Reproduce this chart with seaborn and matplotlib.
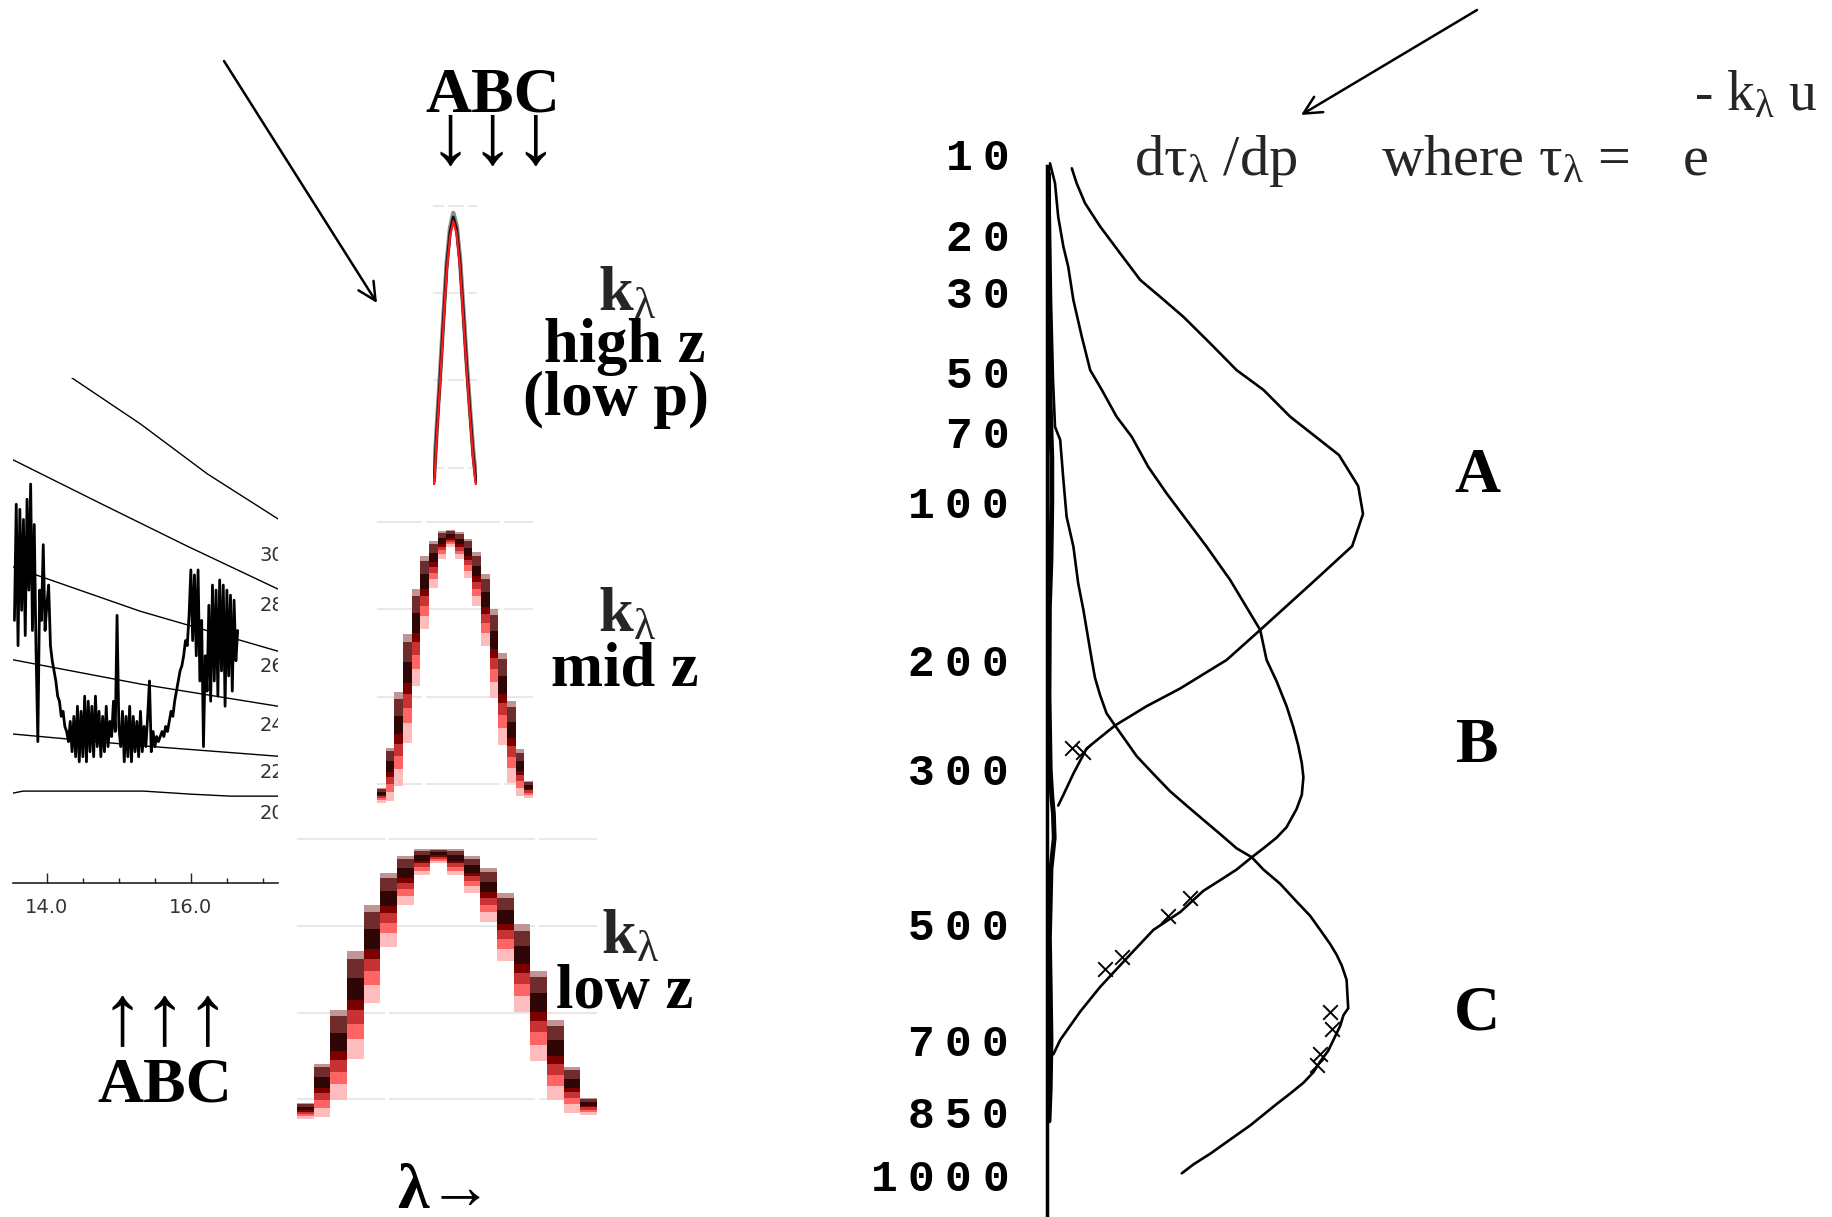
import matplotlib
matplotlib.use("Agg")
import matplotlib.pyplot as plt
import numpy as np
import seaborn as sns

# ---------------------------------------------------------------- data
# inset spectrum (wavelength in micron, radiance in arbitrary units)
spec_wl = [13.550, 13.575, 13.600, 13.625, 13.650, 13.675, 13.700, 13.725, 13.750, 13.775,
           13.800, 13.825, 13.850, 13.875, 13.900, 13.925, 13.950, 13.975, 14.000, 14.025,
           14.050, 14.075, 14.100, 14.125, 14.150, 14.175, 14.200, 14.225, 14.250, 14.275,
           14.300, 14.325, 14.350, 14.375, 14.400, 14.425, 14.450, 14.475, 14.500, 14.525,
           14.550, 14.575, 14.600, 14.625, 14.650, 14.675, 14.700, 14.725, 14.750, 14.775,
           14.800, 14.825, 14.850, 14.875, 14.900, 14.925, 14.950, 14.975, 15.000, 15.025,
           15.050, 15.075, 15.100, 15.125, 15.150, 15.175, 15.200, 15.225, 15.250, 15.275,
           15.300, 15.325, 15.350, 15.375, 15.400, 15.425, 15.450, 15.475, 15.500, 15.525,
           15.550, 15.575, 15.600, 15.625, 15.650, 15.675, 15.700, 15.725, 15.750, 15.775,
           15.800, 15.825, 15.850, 15.875, 15.900, 15.925, 15.950, 15.975, 16.000, 16.025,
           16.050, 16.075, 16.100, 16.125, 16.150, 16.175, 16.200, 16.225, 16.250, 16.275,
           16.300, 16.325, 16.350, 16.375, 16.400, 16.425, 16.450, 16.475, 16.500, 16.525,
           16.550, 16.575, 16.600, 16.625, 16.650]
spec_rad = [52, 75, 47, 74, 54, 72, 49, 76, 58, 79,
            50, 71, 46, 28, 58, 52, 67, 50, 55, 59,
            47, 44, 42, 40, 37, 36, 33, 34, 31, 30,
            28, 32, 26, 33, 25, 35, 24, 34, 25, 37,
            24, 36, 26, 35, 25, 37, 27, 34, 25, 33,
            26, 35, 27, 32, 29, 36, 30, 53, 31, 27,
            34, 24, 33, 25, 35, 24, 33, 26, 32, 25,
            34, 26, 31, 27, 33, 40, 26, 30, 27, 29,
            28, 29, 30, 29, 31, 30, 32, 34, 33, 36,
            38, 40, 42, 43, 45, 48, 47, 53, 62, 48,
            61, 45, 62, 40, 52, 27, 45, 38, 55, 36,
            59, 40, 58, 37, 60, 42, 59, 35, 58, 41,
            57, 38, 56, 44, 50]

# blackbody reference curves of the inset
bb300_wl = [13.90, 14.35, 15.30, 16.23, 17.21]
bb300 = [108.0, 100.0, 90.9, 81.0, 72.1]
bb280_wl = [13.53, 14.74, 15.95, 17.21]
bb280 = [83.8, 75.2, 66.7, 58.2]
bb260_wl = [13.53, 15.30, 17.21]
bb260 = [62.6, 53.8, 45.9]
bb240_wl = [13.53, 15.30, 17.21]
bb240 = [44.2, 39.4, 35.0]
bb220_wl = [13.53, 15.30, 17.21]
bb220 = [29.5, 27.2, 25.1]
bb200_wl = [13.53, 13.67, 15.34, 15.99, 16.55, 17.21]
bb200 = [17.8, 18.2, 18.2, 17.6, 17.2, 17.2]
bb_labels = ["300", "280", "260", "240", "220", "200"]
bb_label_y = [64.9, 54.9, 42.8, 31.1, 21.9, 13.7]

spec_major = [14.0, 16.0]
spec_major_labels = ["14.0", "16.0"]
spec_minor = [14.5, 15.0, 15.5, 16.5, 17.0]

# absorption coefficient k_lambda line shapes
high_dl = [-19.3, -16.6, -13.3, -10.0, -6.6, -3.3, 0.0, 3.4, 6.7, 10.0, 13.4, 16.7, 20.0, 22.7]
high_k = [0.209, 0.350, 0.501, 0.665, 0.825, 0.923, 0.968, 0.931, 0.837, 0.693, 0.539,
          0.407, 0.281, 0.209]
mid_top = [0.239, 0.354, 0.513, 0.678, 0.809, 0.903, 0.946, 0.974, 0.977, 0.971, 0.952,
           0.914, 0.850, 0.752, 0.626, 0.487, 0.349, 0.258]
mid_bot = [0.196, 0.201, 0.244, 0.368, 0.530, 0.693, 0.812, 0.893, 0.927, 0.893, 0.841,
           0.759, 0.645, 0.497, 0.363, 0.253, 0.215, 0.210]
low_top = [0.240, 0.353, 0.507, 0.676, 0.810, 0.902, 0.951, 0.972, 0.972, 0.972, 0.951,
           0.916, 0.845, 0.754, 0.620, 0.479, 0.343, 0.254]
low_bot = [0.194, 0.198, 0.247, 0.367, 0.529, 0.690, 0.810, 0.895, 0.930, 0.895, 0.845,
           0.761, 0.648, 0.501, 0.360, 0.247, 0.212, 0.205]
k_grid = [0.25, 0.5, 0.75, 1.0]

# weighting functions d tau / dp  (pressure hPa, weight)
wA_p = [11.4, 13.0, 15.4, 18.6, 22.8, 27.6, 31.0, 35.4, 41.9, 49.3, 55.3, 64.3, 78.9, 92.3,
        105.7, 122.8, 143.5, 176.6, 199.4, 210.9, 222.9, 238.5, 256.3, 278.8, 304.9, 328.3, 340.6]
wA = [0.062, 0.074, 0.095, 0.133, 0.183, 0.233, 0.283, 0.341, 0.408, 0.474, 0.541, 0.608, 0.730,
      0.778, 0.790, 0.763, 0.668, 0.533, 0.449, 0.391, 0.333, 0.249, 0.170, 0.099, 0.066, 0.041,
      0.028]
wB_p = [10.9, 13.0, 17.2, 21.7, 25.1, 31.7, 40.2, 49.3, 55.3, 64.3, 71.7, 83.8, 95.7, 108.8,
        123.1, 142.9, 164.8, 176.6, 199.4, 216.8, 238.5, 258.2, 275.7, 293.9, 308.9, 328.3,
        344.6, 366.3, 379.4, 392.9, 404.5, 420.9, 435.4, 450.3, 481.2, 508.2, 553.6, 601.8,
        646.1, 699.6, 727.9]
wB = [0.0075, 0.020, 0.028, 0.041, 0.053, 0.066, 0.087, 0.108, 0.137, 0.174, 0.212, 0.253,
      0.299, 0.349, 0.399, 0.458, 0.508, 0.533, 0.549, 0.574, 0.599, 0.616, 0.628, 0.637,
      0.641, 0.637, 0.624, 0.599, 0.574, 0.541, 0.512, 0.474, 0.433, 0.391, 0.333, 0.266,
      0.199, 0.133, 0.083, 0.033, 0.016]
wC_p = [11.2, 31.7, 52.2, 67.9, 72.9, 89.6, 107.1, 123.1, 145.0, 162.5, 199.4, 213.9, 229.0,
        245.0, 256.3, 272.2, 286.5, 297.6, 308.9, 324.4, 340.6, 357.5, 374.9, 392.9, 404.5,
        420.9, 440.5, 465.8, 486.9, 508.2, 530.5, 547.6, 565.6, 589.8, 640.0, 652.9, 672.7,
        699.7, 720.9, 742.4, 764.3, 786.4, 809.3, 832.2, 855.9, 880.1, 912.8, 946.6, 972.6, 994.6]
wC = [0.005, 0.010, 0.015, 0.020, 0.033, 0.041, 0.049, 0.066, 0.078, 0.091, 0.112, 0.120,
      0.133, 0.149, 0.170, 0.199, 0.224, 0.249, 0.274, 0.308, 0.349, 0.391, 0.433, 0.474,
      0.512, 0.541, 0.583, 0.624, 0.658, 0.683, 0.708, 0.724, 0.737, 0.749, 0.753, 0.741,
      0.733, 0.716, 0.703, 0.683, 0.666, 0.641, 0.608, 0.574, 0.541, 0.508, 0.458, 0.408,
      0.366, 0.337]
wD_p = [12, 25, 40, 60, 80, 100, 130, 160, 230, 300, 330, 350, 380, 420, 470, 520, 600, 700,
        800, 870]
wD = [0.004, 0.004, 0.006, 0.008, 0.012, 0.012, 0.010, 0.006, 0.005, 0.008, 0.012, 0.016,
      0.018, 0.010, 0.008, 0.006, 0.008, 0.010, 0.008, 0.005]
mark_p = [460.6, 486.9, 550.7, 571.4, 646.1, 679.3, 727.9, 749.8, 282.6, 278.8]
mark_w = [0.358, 0.303, 0.187, 0.145, 0.708, 0.712, 0.683, 0.674, 0.091, 0.062]
p_ticks = [10, 20, 30, 50, 70, 100, 200, 300, 500, 700, 850, 1000]

# ---------------------------------------------------------------- style
sns.set_theme(style="white")
plt.rcParams["font.family"] = ["Liberation Serif", "DejaVu Serif"]
plt.rcParams["mathtext.fontset"] = "custom"
plt.rcParams["mathtext.rm"] = "Liberation Serif"
plt.rcParams["mathtext.it"] = "Liberation Serif:italic"
plt.rcParams["mathtext.bf"] = "Liberation Serif:bold"
plt.rcParams["mathtext.tt"] = "Liberation Mono:bold"

W, H = 1833, 1217
fig = plt.figure(figsize=(W / 100, H / 100), dpi=100)
fig.patch.set_facecolor("white")


def box(x0, y0, x1, y1):
    a = fig.add_axes([x0 / W, 1 - y1 / H, (x1 - x0) / W, (y1 - y0) / H])
    a.set_facecolor("none")
    return a


# ---------------------------------------------------------------- inset spectrum
ax_s = box(13, 378, 278, 883)
for wl, val in [(bb300_wl, bb300), (bb280_wl, bb280), (bb260_wl, bb260),
                (bb240_wl, bb240), (bb220_wl, bb220), (bb200_wl, bb200)]:
    sns.lineplot(x=wl, y=val, ax=ax_s, color="black", lw=1.0, sort=False, estimator=None)
sns.lineplot(x=spec_wl, y=spec_rad, ax=ax_s, color="black", lw=2.0, sort=False, estimator=None)
ax_s.set_xlim(13.53, 17.21)
ax_s.set_ylim(0, 100)
for s in ["top", "left", "right"]:
    ax_s.spines[s].set_visible(False)
ax_s.spines["bottom"].set_color("#222222")
ax_s.spines["bottom"].set_linewidth(1.2)
ax_s.set_xticks(spec_major)
ax_s.set_xticklabels(spec_major_labels)
ax_s.set_xticks(spec_minor, minor=True)
ax_s.tick_params(axis="x", which="major", direction="in", length=7, width=1, pad=11,
                 labelsize=14, labelcolor="#333333", bottom=True, color="#222222")
ax_s.tick_params(axis="x", which="minor", direction="in", length=3.5, width=1, bottom=True,
                 color="#222222")
for lab in ax_s.get_xticklabels():
    lab.set_fontfamily("DejaVu Sans")
ax_s.set_yticks([])
ax_s.set_xlabel("")
ax_s.set_ylabel("")
for t, yv in zip(bb_labels, bb_label_y):
    ax_s.text(16.96, yv, t, fontsize=14, color="#333333", family="DejaVu Sans",
              ha="left", va="center", clip_on=True)

# ---------------------------------------------------------------- k_lambda panels
# vertical colour ramp inside each spectral channel: grey/black line above, red line below
seg_cols = [(0.00, 0.07, "#bf9595"), (0.07, 0.25, "#6e2c2c"), (0.25, 0.45, "#2e0606"),
            (0.45, 0.55, "#7d0000"), (0.55, 0.68, "#c83232"), (0.68, 0.82, "#ff6464"),
            (0.82, 1.00, "#ffbcbc")]


def kpanel(a, ylo):
    a.set_ylim(ylo, 1.02)
    a.set_yticks(k_grid)
    a.set_yticklabels([])
    a.set_xticks([])
    a.grid(axis="y", color="#e8e8e8", lw=1.5)
    a.set_axisbelow(True)
    for s in a.spines.values():
        s.set_visible(False)
    a.tick_params(left=False, bottom=False)


ax_h = box(433, 199, 477, 485)
kpanel(ax_h, 0.20)
ax_h.set_xlim(-20.3, 23.7)
for xv in [-6.8, 13.2]:
    ax_h.axvline(xv, color="white", lw=3, zorder=1)
sns.lineplot(x=high_dl, y=np.array(high_k) + 0.012, ax=ax_h, color="#8c8c8c", lw=3.2,
             sort=False, estimator=None)
sns.lineplot(x=high_dl, y=high_k, ax=ax_h, color="#111111", lw=2.2, sort=False, estimator=None)
sns.lineplot(x=high_dl, y=np.array(high_k) - 0.012, ax=ax_h, color="#ff1a1a", lw=1.6,
             sort=False, estimator=None)


def columns(a, tops, bots):
    tops = np.array(tops)
    bots = np.array(bots)
    n = len(tops)
    idx = np.arange(n)
    xe = np.column_stack([idx - 0.5, idx + 0.5]).ravel()
    span = tops - bots
    a.set_xlim(-0.5, n - 0.5)
    for xv in [4.9, 13.9]:
        a.axvline(xv, color="white", lw=3, zorder=1)
    for f0, f1, c in seg_cols:
        hi = np.repeat(tops - span * f0, 2)
        lo = np.repeat(tops - span * f1, 2)
        a.fill_between(xe, lo, hi, color=c, linewidth=0, zorder=2)


ax_m = box(377, 515, 533, 805)
kpanel(ax_m, 0.19)
columns(ax_m, mid_top, mid_bot)

ax_l = box(297, 832, 597, 1122)
kpanel(ax_l, 0.185)
columns(ax_l, low_top, low_bot)

# ---------------------------------------------------------------- weighting functions
ax_w = box(1047, 140, 1447, 1217)
ax_w.set_yscale("function", functions=(lambda p: np.power(np.clip(p, 1e-6, None), 0.286),
                                       lambda s: np.power(np.clip(s, 1e-6, None), 1 / 0.286)))
for xs, ps in [(wA, wA_p), (wB, wB_p), (wC, wC_p)]:
    sns.lineplot(x=xs, y=ps, ax=ax_w, color="black", lw=1.9, sort=False, estimator=None)
sns.lineplot(x=wD, y=wD_p, ax=ax_w, color="black", lw=3.5, sort=False, estimator=None)
ax_w.scatter(mark_w, mark_p, marker="x", s=110, color="black", linewidths=1.4, zorder=3)
ax_w.set_xlim(0, 1)
ax_w.set_ylim(1108, 8.75)
ax_w.set_yticks(p_ticks)
ax_w.set_yticks([], minor=True)
ax_w.set_yticklabels([r"$\mathtt{" + r"\ ".join(str(v)) + "}$" for v in p_ticks])
ax_w.tick_params(axis="y", left=True, length=0, pad=28, labelsize=32, labelcolor="black")
ax_w.set_xticks([])
ax_w.set_xlabel("")
ax_w.set_ylabel("")
for s in ["top", "right", "bottom"]:
    ax_w.spines[s].set_visible(False)
ax_w.spines["left"].set_color("black")
ax_w.spines["left"].set_linewidth(2.5)
ax_w.spines["left"].set_bounds(11.2, 1108)

# ---------------------------------------------------------------- overlay text & arrows
ax_o = fig.add_axes([0, 0, 1, 1])
ax_o.set_xlim(0, W)
ax_o.set_ylim(H, 0)
ax_o.axis("off")
ax_o.set_facecolor("none")

bold = dict(fontweight="bold", color="black", va="baseline")
ax_o.text(493, 112, "ABC", fontsize=46, ha="center", **bold)
ax_o.text(493, 162, "↓↓↓", fontsize=62, ha="center", **bold)
ax_o.text(165, 1043, "↑↑↑", fontsize=62, ha="center", **bold)
ax_o.text(165, 1101, "ABC", fontsize=46, ha="center", **bold)
ax_o.text(397, 1208, "λ→", fontsize=46, ha="left", **bold)

ax_o.text(598, 310, r"$\mathbf{k}_{\mathrm{λ}}$", fontsize=45, ha="left", va="baseline")
ax_o.text(544, 362, "high z", fontsize=45, ha="left", **bold)
ax_o.text(523, 415, "(low p)", fontsize=45, ha="left", **bold)
ax_o.text(598, 631, r"$\mathbf{k}_{\mathrm{λ}}$", fontsize=45, ha="left", va="baseline")
ax_o.text(551, 686, "mid z", fontsize=45, ha="left", **bold)
ax_o.text(601, 953, r"$\mathbf{k}_{\mathrm{λ}}$", fontsize=45, ha="left", va="baseline")
ax_o.text(556, 1008, "low z", fontsize=45, ha="left", **bold)

ax_o.text(1477, 492, "A", fontsize=46, ha="center", **bold)
ax_o.text(1477, 762, "B", fontsize=46, ha="center", **bold)
ax_o.text(1477, 1029, "C", fontsize=46, ha="center", **bold)

ax_o.text(1134, 175, r"d$\mathrm{τ}_{\mathrm{λ}}$ /dp", fontsize=42, ha="left", va="baseline")
ax_o.text(1381, 175, r"where $\mathrm{τ}_{\mathrm{λ}}$ =", fontsize=42, ha="left", va="baseline")
ax_o.text(1683, 175, "e", fontsize=42, ha="left", va="baseline")
ax_o.text(1694, 110, r"- k$_{\mathrm{λ}}$ u", fontsize=40, ha="left", va="baseline")

arr = dict(arrowstyle="->", color="black", lw=1.8, mutation_scale=32, shrinkA=0, shrinkB=0)
ax_o.annotate("", xy=(377, 303), xytext=(224, 61), arrowprops=arr)
ax_o.annotate("", xy=(1301, 115), xytext=(1477, 10), arrowprops=arr)

fig.savefig("out.png", dpi=100)
